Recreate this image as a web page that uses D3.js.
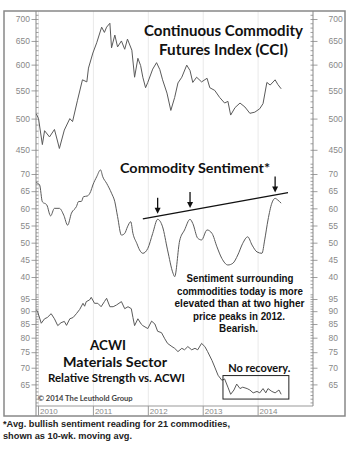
<!DOCTYPE html>
<html><head><meta charset="utf-8">
<script src="https://cdn.jsdelivr.net/npm/d3@7"></script>
<style>body{margin:0;background:#fff}svg{display:block}</style>
</head><body>
<svg id="c" width="350" height="455"></svg>
<script>
// ---- data (decimal years) ----
const years = [2010, 2011, 2012, 2013, 2014];
const yearLabels = ["2010", "2011", "2012", "2013", "2014"];

const cciT = [2009.96,2010.00,2010.07,2010.11,2010.20,2010.29,2010.35,2010.38,2010.47,2010.57,2010.62,2010.71,2010.80,2010.88,2010.91,2010.99,2011.06,2011.15,2011.20,2011.24,2011.30,2011.33,2011.39,2011.44,2011.51,2011.57,2011.62,2011.70,2011.75,2011.81,2011.86,2011.90,2011.95,2011.99,2012.08,2012.15,2012.21,2012.26,2012.34,2012.41,2012.48,2012.54,2012.61,2012.70,2012.76,2012.81,2012.88,2012.97,2013.07,2013.12,2013.21,2013.30,2013.39,2013.45,2013.50,2013.58,2013.67,2013.76,2013.85,2013.94,2014.03,2014.09,2014.16,2014.22,2014.31,2014.36,2014.42];
const cciV = [508,500,458,480,470,482,462,452,481,500,495,532,570,566,593,624,646,681,669,681,690,635,663,637,650,632,654,630,575,613,598,575,555,565,591,604,590,570,545,514,537,564,575,599,588,565,575,566,573,555,550,537,527,530,506,519,527,520,509,511,517,526,565,560,570,561,553];

const sentT = [2009.955,2010.02,2010.07,2010.15,2010.22,2010.29,2010.38,2010.46,2010.53,2010.60,2010.69,2010.73,2010.78,2010.82,2010.89,2010.95,2010.99,2011.06,2011.13,2011.17,2011.24,2011.33,2011.39,2011.44,2011.51,2011.57,2011.62,2011.68,2011.72,2011.79,2011.84,2011.90,2011.99,2012.08,2012.17,2012.26,2012.35,2012.45,2012.48,2012.57,2012.66,2012.76,2012.81,2012.90,2012.97,2013.07,2013.16,2013.25,2013.34,2013.45,2013.54,2013.63,2013.72,2013.81,2013.89,2013.98,2014.07,2014.12,2014.18,2014.25,2014.31,2014.36,2014.42];
const sentV = [67.5,66.8,61.9,61,57.8,60,60,58,55.1,58.6,60.5,62,62,63.4,63.6,64.9,66.8,69.2,71.2,69.2,67.3,64.4,61.9,57.6,52.2,52.7,54.6,56.1,52.7,49.8,47.9,46.9,48.3,52.7,56.8,54.6,47.9,41.1,40.1,50.5,53.7,56.8,55.6,51.3,50.8,53.7,52.7,48.8,45.4,43.5,44,46.4,49.8,51.7,49.3,47.3,46.9,50.8,56.6,61.5,62.9,62.4,61.5];

const acwiT = [2009.96,2009.98,2010.05,2010.11,2010.16,2010.23,2010.29,2010.35,2010.41,2010.47,2010.51,2010.57,2010.63,2010.69,2010.75,2010.81,2010.84,2010.87,2010.93,2010.96,2011.02,2011.08,2011.14,2011.20,2011.24,2011.30,2011.36,2011.42,2011.51,2011.57,2011.63,2011.69,2011.72,2011.75,2011.81,2011.87,2011.90,2011.99,2012.06,2012.12,2012.17,2012.24,2012.30,2012.35,2012.43,2012.48,2012.54,2012.61,2012.66,2012.72,2012.79,2012.85,2012.90,2012.97,2013.03,2013.08,2013.16,2013.21,2013.27,2013.34,2013.39,2013.45,2013.50,2013.56,2013.61,2013.67,2013.72,2013.80,2013.85,2013.91,2013.98,2014.03,2014.09,2014.14,2014.18,2014.25,2014.31,2014.38,2014.42];
const acwiV = [90.5,90,85.3,87,87.5,89,87,84.4,85.5,86,84.5,87,87.5,89,90.7,93.2,92,93.9,94.6,95.7,93.2,93.2,91.8,93.9,95.3,91.8,91.8,92.5,93.9,91,91.8,91,87.5,84.4,87,85,84.4,83.3,86.1,85,82.3,81.8,79.6,78,76.9,76.3,75.2,76.3,75.8,76.9,75.8,76.3,75.8,78,76.9,75.2,72.3,70.2,67.7,66.2,66.6,64.2,62.2,63.4,65.1,63.8,64.2,63.8,63.4,62.6,63,62.6,63.8,62.6,63.8,63,62.6,63.4,62.2];

const cciTicks = [700, 650, 600, 550, 500, 450];
const sentTicks = [70, 65, 60, 55, 50, 45, 40];
const acwiTicks = [95, 90, 85, 80, 75, 70, 65];

const trendT = [2011.90, 2014.545];
const trendV = [56.9, 64.6];
const arrowT = [2012.17, 2012.76, 2014.31];
const boxT = [2013.36, 2014.56];
const boxV = [67.6, 60.9];

// ---- scales ----
const svg = d3.select('#c');
const x = d3.scaleLinear().domain([2009.954, 2015.0]).range([36, 313]);
const yC = d3.scaleLog().domain([700, 450]).range([19, 149.8]);
const yS = d3.scaleLinear().domain([70, 40]).range([174, 277]);
const yA = d3.scaleLog().domain([95, 65]).range([299, 384.4]);

const TOP = 11, PB = 406, FB = 416;

// gridlines
svg.append('g').selectAll('line').data(years).join('line')
  .attr('x1', d => x(d)).attr('x2', d => x(d)).attr('y1', TOP).attr('y2', PB)
  .attr('stroke', '#e9e9e9').attr('stroke-width', 1);

// frame
svg.append('rect').attr('x', 4).attr('y', TOP).attr('width', 341).attr('height', FB - TOP)
  .attr('fill', 'none').attr('stroke', '#888').attr('stroke-width', 1.5);

// plot bottom / date row
svg.append('line').attr('x1', 36).attr('x2', 313).attr('y1', PB).attr('y2', PB).attr('stroke', '#999');
svg.append('g').selectAll('line').data(years).join('line')
  .attr('x1', d => x(d)).attr('x2', d => x(d)).attr('y1', PB).attr('y2', FB)
  .attr('stroke', '#999');
svg.append('g').selectAll('text').data(years).join('text')
  .attr('x', d => x(d) + 1.5).attr('y', 413.8).text((d, i) => yearLabels[i])
  .attr('font-family', 'Liberation Sans, Arial, sans-serif').attr('font-size', 8).attr('fill', '#888');

// axis lines
svg.append('line').attr('x1', 36).attr('x2', 36).attr('y1', TOP).attr('y2', FB).attr('stroke', '#888');
svg.append('line').attr('x1', 313).attr('x2', 313).attr('y1', TOP).attr('y2', PB).attr('stroke', '#888');

function axes(scale, ticks, minor) {
  const L = svg.append('g').attr('transform', 'translate(36,0)')
    .call(d3.axisLeft(scale).tickValues(ticks).tickSize(4.5).tickPadding(1.5).tickFormat(d3.format('d')));
  const R = svg.append('g').attr('transform', 'translate(313,0)')
    .call(d3.axisRight(scale).tickValues(ticks).tickSize(4.5).tickPadding(11).tickFormat(d3.format('d')));
  const mL = svg.append('g').attr('transform', 'translate(36,0)')
    .call(d3.axisLeft(scale).tickValues(minor).tickSize(-2.5).tickFormat(''));
  const mR = svg.append('g').attr('transform', 'translate(313,0)')
    .call(d3.axisRight(scale).tickValues(minor).tickSize(-2.5).tickFormat(''));
  [L, R, mL, mR].forEach(g => {
    g.select('.domain').remove();
    g.selectAll('line').attr('stroke', '#888').attr('stroke-width', 0.8);
    g.selectAll('text').attr('font-family', 'Liberation Sans, Arial, sans-serif')
      .attr('font-size', 8.5).attr('fill', '#888');
  });
}
axes(yC, cciTicks, d3.range(440, 711, 10));
axes(yS, sentTicks, d3.range(37, 74, 1));
axes(yA, acwiTicks, d3.range(60, 98, 1));

// series lines
const lineC = d3.line().x(d => x(d[0])).y(d => yC(d[1]));
const lineS = d3.line().x(d => x(d[0])).y(d => yS(d[1])).curve(d3.curveMonotoneX);
const lineA = d3.line().x(d => x(d[0])).y(d => yA(d[1]));
const dC = cciT.map((t, i) => [t, cciV[i]]);
const dS = sentT.map((t, i) => [t, sentV[i]]);
const dA = acwiT.map((t, i) => [t, acwiV[i]]);
[[dC, lineC], [dS, lineS], [dA, lineA]].forEach(([d, l]) => {
  svg.append('path').attr('d', l(d)).attr('fill', 'none').attr('stroke', '#5a5a5a').attr('stroke-width', 1).attr('stroke-linejoin', 'round');
});

// trend line
svg.append('line').attr('x1', x(trendT[0])).attr('y1', yS(trendV[0]))
  .attr('x2', x(trendT[1])).attr('y2', yS(trendV[1]))
  .attr('stroke', '#111').attr('stroke-width', 1.3);

// arrows
const trendAt = t => trendV[0] + (t - trendT[0]) / (trendT[1] - trendT[0]) * (trendV[1] - trendV[0]);
arrowT.forEach(t => {
  const ax = x(t), tip = yS(trendAt(t)) - 2.5;
  svg.append('line').attr('x1', ax).attr('x2', ax).attr('y1', tip - 16).attr('y2', tip - 4)
    .attr('stroke', '#111').attr('stroke-width', 1.3);
  svg.append('path').attr('d', `M${ax - 3},${tip - 6} L${ax + 3},${tip - 6} L${ax},${tip} Z`).attr('fill', '#111');
});

// no recovery box
svg.append('rect').attr('x', x(boxT[0])).attr('y', yA(boxV[0]))
  .attr('width', x(boxT[1]) - x(boxT[0])).attr('height', yA(boxV[1]) - yA(boxV[0]))
  .attr('fill', 'none').attr('stroke', '#222').attr('stroke-width', 1);

// texts
function txt(s, xx, yy, size, len, opts = {}) {
  const t = svg.append('text').attr('x', xx).attr('y', yy).text(s)
    .attr('font-family', opts.family || 'Lato, sans-serif')
    .attr('font-weight', opts.weight || 700)
    .attr('font-size', size)
    .attr('fill', opts.fill || '#111')
    .attr('text-anchor', opts.anchor || 'middle');
  if (len) t.attr('textLength', len).attr('lengthAdjust', 'spacingAndGlyphs');
  return t;
}
txt('Continuous Commodity', 223.5, 36, 14.5, 159);
txt('Futures Index (CCI)', 223.5, 54.5, 14.5, 129);
txt('Commodity Sentiment*', 195, 173, 13.5, 150);

const A = {family: 'Liberation Sans, Arial, sans-serif'};
txt('Sentiment surrounding', 240, 282, 10, 107, A);
txt('commodities today is more', 240, 294.5, 10, 126, A);
txt('elevated than at two higher', 239.5, 307, 10, 130, A);
txt('price peaks in 2012.', 239, 319.8, 10, 92, A);
txt('Bearish.', 238.5, 332.3, 10, 39, A);

txt('ACWI', 108, 350, 14, 36);
txt('Materials Sector', 115, 366.5, 14, 104);
txt('Relative Strength vs. ACWI', 116.5, 381.5, 11.5, 137);
txt('No recovery.', 228.3, 371.7, 11.5, 62, {anchor: 'start'});

txt('© 2014 The Leuthold Group', 37.7, 400.5, 8, 95, {anchor: 'start', fill: '#444'});
txt('*Avg. bullish sentiment reading for 21 commodities,', 3, 426.5, 9, 227, {anchor: 'start', family: A.family, fill: '#222'});
txt('shown as 10-wk. moving avg.', 3, 439, 9, 129, {anchor: 'start', family: A.family, fill: '#222'});
</script>
</body></html>
